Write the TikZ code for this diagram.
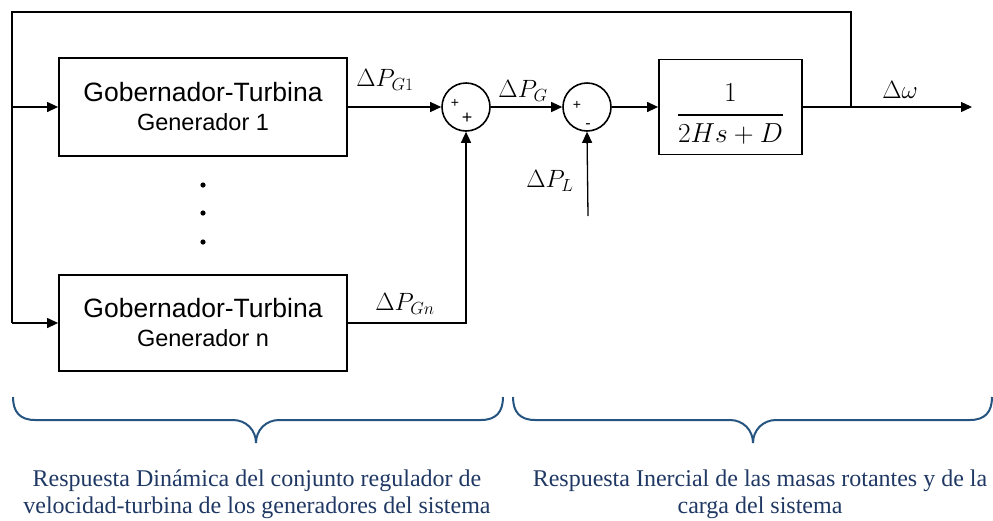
\RequirePackage{fix-cm}
\documentclass[tikz,border=0pt]{standalone}
\usepackage{amsmath}
\usepackage{fontspec}
\setmainfont{Liberation Serif}
\newfontfamily\arialfont{Liberation Sans}
\usetikzlibrary{arrows.meta}
\definecolor{bracecol}{RGB}{38,84,128}
\definecolor{textnavy}{RGB}{31,56,100}
\begin{document}
\begin{tikzpicture}[x=1pt,y=-1pt,
  blk/.style={draw, line width=1.8pt, minimum width=288pt, minimum height=98pt, inner sep=0pt, align=center, font=\arialfont\fontsize{26.5}{32}\selectfont},
  sumc/.style={draw, circle, line width=1.6pt, minimum size=48pt, inner sep=0pt},
  sig/.style={-{Triangle[length=11pt,width=10pt]}, line width=1.3pt},
  ln/.style={line width=1.3pt},
  brc/.style={draw=bracecol, line width=2pt},
  lab/.style={font=\fontsize{25}{30}\selectfont, inner sep=0pt},
  sgn/.style={font=\arialfont\fontsize{14}{16}\selectfont, inner sep=0pt},
  btext/.style={text=textnavy, align=center, font=\fontsize{24}{27}\selectfont, inner sep=0pt}
]
\useasboundingbox (0,0) rectangle (993,520);

% blocks
\node[blk] (g1) at (203,107) {Gobernador-Turbina\\[-3pt]\fontsize{23.5}{32}\selectfont Generador 1};
\node[blk, minimum height=96pt] (g2) at (203,323) {Gobernador-Turbina\\[-3pt]\fontsize{23.5}{32}\selectfont Generador n};
\node[sumc] (s1) at (466,107) {};
\node[sumc] (s2) at (587,107) {};
\node[blk, minimum width=143pt, minimum height=95pt, font=\fontsize{27.5}{32}\selectfont] (H) at (730.5,107)
  {$\genfrac{}{}{2.4pt}{0}{\rule[-5pt]{0pt}{37pt}1}{\rule{0pt}{19pt}2Hs+D}$};

% signs
\node[sgn] (s1a) at (455,103) {+};
\node[sgn, font=\arialfont\fontsize{18}{20}\selectfont] (s1b) at (467,118) {+};
\node[sgn] (s2a) at (577,105) {+};
\node[sgn, font=\arialfont\fontsize{16}{18}\selectfont] (s2b) at (588,126) {-};

% dots
\fill (203,185) circle (2.6);
\fill (203,213) circle (2.6);
\fill (203,242) circle (2.6);

% coordinates
\coordinate (j) at (851,107);
\coordinate (tl) at (12,12);
\coordinate (ml) at (12,107);
\coordinate (bl) at (12,323);
\coordinate (out) at (972,107);
\coordinate (pl) at (588,216);

% connectors
\draw[ln] (j) |- (tl) -- (bl);
\draw[sig] (ml) -- (g1.west);
\draw[sig] (bl) -- (g2.west);
\draw[sig] (g1.east) -- (s1.west);
\draw[sig] (g2.east) -| (s1.south);
\draw[sig] (s1.east) -- (s2.west);
\draw[sig] (pl) -- (s2.south);
\draw[sig] (s2.east) -- (H.west);
\draw[sig] (H.east) -- (out);

% labels
\node[lab] (lg1) at (385,80) {$\Delta P_{G1}$};
\node[lab] (lg) at (523,91) {$\Delta P_{G}$};
\node[lab] (ll) at (550,181) {$\Delta P_{L}$};
\node[lab] (lgn) at (405,304) {$\Delta P_{Gn}$};
\node[lab] (lw) at (900,90) {$\Delta\omega$};

% braces
\draw[brc] (13,397) .. controls (13,412) and (20,420) .. (35,420) -- (233,420)
  .. controls (246,420) and (256,430) .. (256,443)
  .. controls (256,430) and (266,420) .. (279,420) -- (481,420)
  .. controls (496,420) and (503,412) .. (503,397);
\draw[brc] (513,397) .. controls (513,412) and (520,420) .. (535,420) -- (730,420)
  .. controls (743,420) and (753,430) .. (753,443)
  .. controls (753,430) and (763,420) .. (776,420) -- (970,420)
  .. controls (985,420) and (992,412) .. (992,397);

% bottom texts
\node[btext] (t1) at (257,494) {Respuesta Dinámica del conjunto regulador de\\velocidad-turbina de los generadores del sistema};
\node[btext] (t2) at (760,494) {Respuesta Inercial de las masas rotantes y de la\\carga del sistema};
\end{tikzpicture}
\end{document}
